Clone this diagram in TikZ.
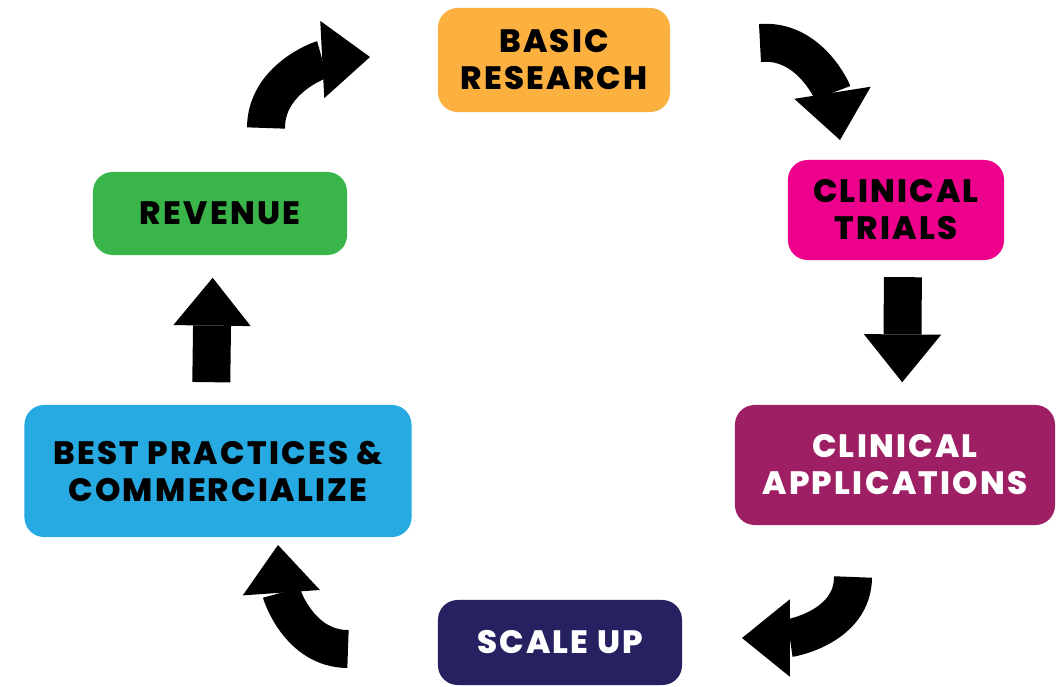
\documentclass[tikz,border=0pt]{standalone}
\usepackage{fontspec}
\setmainfont{Poppins}
\newfontfamily\stagefont{Poppins}[LetterSpace=7, BoldFont={Poppins ExtraBold}]
\usetikzlibrary{arrows.meta, positioning}
\definecolor{resorange}{RGB}{251, 176, 64}
\definecolor{trialpink}{RGB}{236, 0, 140}
\definecolor{applplum}{RGB}{158, 31, 99}
\definecolor{scalenavy}{RGB}{38, 34, 98}
\definecolor{bestblue}{RGB}{39, 170, 225}
\definecolor{revgreen}{RGB}{57, 181, 74}

\begin{document}
\begin{tikzpicture}[x=0.025cm, y=0.025cm,
  stage/.style={rounded corners=14pt, align=center, inner sep=0pt, font=\stagefont\fontsize{23}{26.3}\selectfont\bfseries},
  bigarrow/.style={line width=27pt, -{Triangle[length=34pt, width=55pt, line width=0pt]}}]
  \useasboundingbox (0,0) rectangle (1060,686);

  % Stages of the cycle
  \node[stage, fill=resorange, minimum width=5.8cm, minimum height=2.6cm] (basic) at (554,626) {BASIC\\RESEARCH};
  \node[stage, fill=trialpink, minimum width=5.4cm, minimum height=2.5cm] (trials) at (896,476) {CLINICAL\\TRIALS};
  \node[stage, fill=applplum, text=white, minimum width=8cm, minimum height=3cm] (apps) at (895,221) {CLINICAL\\APPLICATIONS};
  \node[stage, fill=scalenavy, text=white, minimum width=6.1cm, minimum height=2.125cm] (scale) at (560,43.5) {SCALE UP};
  \node[stage, fill=bestblue, minimum width=9.675cm, minimum height=3.3cm] (best) at (218,215) {BEST PRACTICES \&\\COMMERCIALIZE};
  \node[stage, fill=revgreen, minimum width=6.35cm, minimum height=2.075cm] (revenue) at (220,472.5) {REVENUE};

  % Curved arrows
  \coordinate (toBasicTail) at (266,558);
  \coordinate (toBasicTip) at (370,629);
  \draw[bigarrow] (toBasicTail) to[out=90, in=183] (toBasicTip);

  \coordinate (toTrialsTail) at (760,643);
  \coordinate (toTrialsTip) at (840,546);
  \draw[bigarrow] (toTrialsTail) to[out=5, in=99] (toTrialsTip);

  \coordinate (toScaleTail) at (853,109);
  \coordinate (toScaleTip) at (742,48);
  \draw[bigarrow] (toScaleTail) to[out=-90, in=0] (toScaleTip);

  \coordinate (toBestTail) at (348,37);
  \coordinate (toBestTip) at (278,141);
  \draw[bigarrow] (toBestTail) to[out=180, in=-86] (toBestTip);

  % Straight arrows
  \draw[bigarrow, shorten <=12pt, shorten >=16pt] ([xshift=5pt]trials.south) -- ([xshift=5pt]apps.north);
  \draw[bigarrow, shorten <=16pt, shorten >=16pt] ([xshift=-5pt]best.north) -- ([xshift=-5pt]revenue.south);
\end{tikzpicture}
\end{document}
